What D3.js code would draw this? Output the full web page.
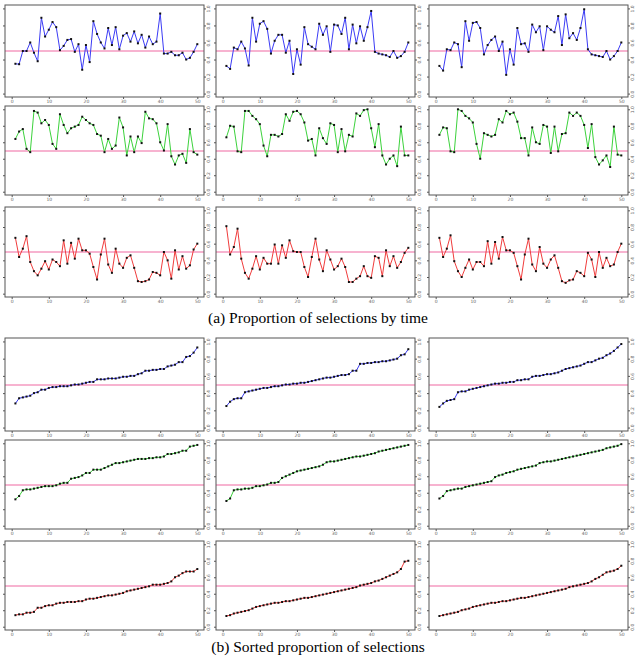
<!DOCTYPE html>
<html>
<head>
<meta charset="utf-8">
<script src="https://cdn.jsdelivr.net/npm/d3@7"></script>
<style>
  body { margin: 0; background: #fff; }
  svg { display: block; }
</style>
</head>
<body>
<script>
// proportions of selections by time (rows: blue, green, red; columns: 3 runs)
var timeBlue1 = [0.35,0.345,0.50,0.50,0.60,0.48,0.38,0.89,0.67,0.75,0.84,0.78,0.51,0.56,0.63,0.64,0.49,0.58,0.28,0.57,0.37,0.85,0.70,0.60,0.53,0.77,0.57,0.78,0.52,0.68,0.71,0.61,0.73,0.59,0.69,0.54,0.67,0.58,0.61,0.94,0.47,0.47,0.49,0.45,0.45,0.48,0.40,0.42,0.49,0.58];
var timeBlue2 = [0.325,0.29,0.54,0.52,0.61,0.53,0.33,0.89,0.61,0.82,0.85,0.76,0.47,0.62,0.69,0.69,0.48,0.62,0.23,0.52,0.34,0.78,0.58,0.55,0.52,0.82,0.69,0.79,0.49,0.81,0.80,0.70,0.89,0.52,0.81,0.59,0.79,0.62,0.78,0.97,0.49,0.47,0.46,0.45,0.43,0.50,0.42,0.44,0.49,0.60];
var timeBlue3 = [0.325,0.27,0.52,0.51,0.60,0.58,0.31,0.85,0.62,0.83,0.84,0.77,0.46,0.57,0.63,0.67,0.50,0.61,0.22,0.52,0.34,0.77,0.58,0.59,0.49,0.81,0.72,0.79,0.51,0.79,0.75,0.72,0.91,0.57,0.93,0.65,0.71,0.63,0.77,0.99,0.52,0.46,0.45,0.44,0.43,0.50,0.40,0.44,0.50,0.60];
var timeGreen1 = [0.64,0.73,0.76,0.52,0.48,0.98,0.96,0.83,0.87,0.81,0.58,0.52,0.94,0.81,0.71,0.77,0.79,0.81,0.91,0.87,0.83,0.81,0.70,0.68,0.48,0.64,0.52,0.56,0.90,0.78,0.44,0.67,0.48,0.67,0.59,0.97,0.89,0.88,0.83,0.60,0.50,0.82,0.43,0.33,0.44,0.46,0.35,0.76,0.48,0.45];
var timeGreen2 = [0.66,0.80,0.79,0.49,0.48,0.98,0.98,0.92,0.88,0.82,0.56,0.43,0.69,0.69,0.67,0.70,0.94,0.86,0.97,0.98,0.94,0.84,0.62,0.64,0.44,0.77,0.65,0.58,0.83,0.81,0.48,0.76,0.49,0.69,0.67,0.95,0.92,0.99,1.00,0.77,0.54,0.82,0.44,0.33,0.40,0.44,0.31,0.79,0.44,0.44];
var timeGreen3 = [0.69,0.78,0.77,0.49,0.48,1.00,0.98,0.92,0.89,0.84,0.58,0.40,0.71,0.69,0.67,0.69,0.88,0.84,0.98,0.94,0.96,0.85,0.65,0.65,0.44,0.78,0.60,0.58,0.81,0.79,0.47,0.79,0.49,0.70,0.71,0.96,0.92,0.96,0.92,0.81,0.53,0.82,0.42,0.33,0.38,0.44,0.30,0.79,0.45,0.44];
var timeRed1 = [0.67,0.44,0.54,0.69,0.38,0.27,0.22,0.30,0.39,0.29,0.41,0.38,0.33,0.64,0.36,0.61,0.42,0.66,0.52,0.52,0.48,0.32,0.17,0.47,0.66,0.35,0.25,0.54,0.36,0.31,0.43,0.46,0.31,0.15,0.14,0.15,0.17,0.26,0.25,0.22,0.50,0.40,0.18,0.52,0.29,0.45,0.30,0.34,0.53,0.60];
var timeRed2 = [0.81,0.47,0.56,0.78,0.42,0.25,0.18,0.30,0.45,0.29,0.43,0.36,0.36,0.59,0.36,0.58,0.43,0.64,0.51,0.50,0.50,0.32,0.20,0.44,0.66,0.41,0.27,0.52,0.41,0.29,0.33,0.42,0.32,0.14,0.14,0.18,0.21,0.33,0.21,0.19,0.45,0.43,0.21,0.52,0.33,0.45,0.31,0.38,0.49,0.55];
var timeRed3 = [0.67,0.44,0.54,0.70,0.39,0.27,0.20,0.31,0.41,0.29,0.38,0.38,0.33,0.63,0.36,0.62,0.42,0.68,0.52,0.52,0.49,0.33,0.17,0.47,0.66,0.35,0.27,0.56,0.36,0.31,0.41,0.46,0.31,0.15,0.13,0.16,0.17,0.27,0.25,0.21,0.49,0.41,0.20,0.50,0.31,0.43,0.33,0.35,0.50,0.60];

// sorted proportions of selections
var sortBlue1 = [0.28,0.34,0.35,0.36,0.37,0.40,0.41,0.44,0.44,0.46,0.47,0.47,0.48,0.48,0.48,0.49,0.50,0.50,0.51,0.52,0.53,0.53,0.56,0.56,0.56,0.57,0.57,0.57,0.58,0.59,0.59,0.60,0.60,0.62,0.63,0.66,0.66,0.67,0.67,0.68,0.68,0.71,0.72,0.73,0.76,0.76,0.82,0.83,0.87,0.93];
var sortBlue2 = [0.25,0.30,0.33,0.34,0.34,0.41,0.42,0.43,0.44,0.45,0.46,0.46,0.47,0.48,0.48,0.49,0.50,0.50,0.51,0.51,0.52,0.52,0.53,0.54,0.55,0.56,0.57,0.58,0.58,0.59,0.60,0.61,0.61,0.62,0.66,0.66,0.74,0.74,0.75,0.75,0.76,0.76,0.77,0.77,0.78,0.79,0.80,0.84,0.85,0.91];
var sortBlue3 = [0.24,0.28,0.31,0.32,0.33,0.41,0.42,0.42,0.44,0.45,0.46,0.47,0.48,0.49,0.50,0.51,0.51,0.52,0.52,0.53,0.53,0.55,0.55,0.56,0.56,0.59,0.60,0.60,0.61,0.62,0.62,0.63,0.64,0.66,0.68,0.69,0.70,0.71,0.72,0.74,0.76,0.76,0.78,0.80,0.81,0.84,0.86,0.89,0.93,0.97];
var sortGreen1 = [0.32,0.36,0.43,0.44,0.44,0.45,0.46,0.47,0.48,0.48,0.48,0.49,0.51,0.52,0.52,0.57,0.58,0.59,0.61,0.64,0.64,0.68,0.68,0.68,0.70,0.72,0.74,0.76,0.76,0.77,0.78,0.79,0.80,0.81,0.81,0.81,0.82,0.82,0.83,0.83,0.84,0.87,0.87,0.88,0.89,0.91,0.91,0.96,0.97,0.98];
var sortGreen2 = [0.30,0.33,0.43,0.44,0.44,0.45,0.45,0.46,0.48,0.48,0.49,0.50,0.52,0.52,0.53,0.58,0.60,0.62,0.64,0.66,0.67,0.68,0.69,0.70,0.71,0.72,0.74,0.77,0.78,0.78,0.79,0.80,0.81,0.82,0.83,0.84,0.84,0.85,0.86,0.87,0.88,0.90,0.91,0.92,0.93,0.94,0.95,0.96,0.97,0.98];
var sortGreen3 = [0.33,0.36,0.42,0.43,0.44,0.45,0.45,0.47,0.48,0.49,0.50,0.51,0.52,0.53,0.54,0.59,0.61,0.62,0.64,0.65,0.66,0.68,0.69,0.70,0.71,0.72,0.73,0.76,0.77,0.78,0.78,0.79,0.80,0.81,0.82,0.83,0.84,0.85,0.86,0.87,0.88,0.89,0.90,0.91,0.92,0.94,0.95,0.96,0.97,0.99];
var sortRed1 = [0.14,0.15,0.15,0.17,0.17,0.18,0.23,0.23,0.25,0.26,0.26,0.28,0.29,0.29,0.30,0.30,0.30,0.31,0.31,0.33,0.34,0.34,0.35,0.36,0.37,0.38,0.38,0.39,0.40,0.41,0.43,0.44,0.45,0.46,0.47,0.48,0.49,0.51,0.51,0.51,0.52,0.53,0.55,0.60,0.62,0.65,0.67,0.67,0.67,0.70];
var sortRed2 = [0.13,0.14,0.16,0.17,0.18,0.19,0.20,0.22,0.24,0.25,0.26,0.27,0.28,0.29,0.29,0.30,0.31,0.31,0.32,0.33,0.34,0.35,0.35,0.36,0.37,0.38,0.39,0.40,0.41,0.42,0.43,0.44,0.45,0.46,0.47,0.48,0.50,0.51,0.52,0.53,0.55,0.56,0.58,0.60,0.62,0.64,0.66,0.70,0.79,0.80];
var sortRed3 = [0.13,0.14,0.15,0.16,0.17,0.18,0.20,0.21,0.22,0.24,0.25,0.26,0.27,0.28,0.29,0.29,0.30,0.31,0.31,0.32,0.33,0.34,0.35,0.35,0.36,0.37,0.38,0.39,0.40,0.41,0.42,0.43,0.44,0.45,0.46,0.48,0.49,0.50,0.51,0.52,0.53,0.55,0.58,0.60,0.63,0.66,0.67,0.68,0.70,0.74];

var xTicks = [0, 10, 20, 30, 40, 50];
var yTicks = [0, 0.2, 0.4, 0.6, 0.8, 1.0];
var refLevel = 0.5;
var captionA = "(a) Proportion of selections by time";
var captionB = "(b) Sorted proportion of selections";

var lineColors = { blue: "#3b3bf5", green: "#3cd23c", red: "#f03c3c" };

var svg = d3.select("body").append("svg")
    .attr("width", 635)
    .attr("height", 656);

var colX = [5, 216, 429];
var colW = 199;

function drawPanel(left, top, height, values, color){
    var right = left + colW,
        bottom = top + height;
    var x = d3.scaleLinear().domain([-1.8, 51.8]).range([left, right]);
    var y = d3.scaleLinear().domain([-0.04, 1.04]).range([bottom, top]);
    var g = svg.append("g");

    // reference line (a bit wide so the pink survives antialiasing)
    g.append("line")
        .attr("x1", left).attr("x2", right)
        .attr("y1", Math.round(y(refLevel))).attr("y2", Math.round(y(refLevel)))
        .attr("stroke", "#f59ac0")
        .attr("stroke-width", 1.6);

    var line = d3.line()
        .x((d, i) => x(i + 1))
        .y(d => y(d));

    g.append("path")
        .datum(values)
        .attr("d", line)
        .attr("fill", "none")
        .attr("stroke", color)
        .attr("stroke-width", 1);

    g.selectAll("rect.pt")
        .data(values)
        .join("rect")
        .attr("class", "pt")
        .attr("x", (d, i) => x(i + 1) - 1)
        .attr("y", d => y(d) - 1)
        .attr("width", 2)
        .attr("height", 2)
        .attr("fill", "#111");

    // box
    g.append("rect")
        .attr("x", left).attr("y", top)
        .attr("width", colW).attr("height", height)
        .attr("fill", "none")
        .attr("stroke", "#555")
        .attr("stroke-width", 1);

    var bx = g.append("g")
        .attr("transform", "translate(0," + bottom + ")")
        .call(d3.axisBottom(x).tickValues(xTicks).tickSize(2).tickPadding(1));
    var ly = g.append("g")
        .attr("transform", "translate(" + left + ",0)")
        .call(d3.axisLeft(y).tickValues(yTicks).tickSize(2).tickFormat(""));
    var ry = g.append("g")
        .attr("transform", "translate(" + right + ",0)")
        .call(d3.axisRight(y).tickValues(yTicks).tickSize(2).tickFormat(d3.format(".1f")));

    [bx, ly, ry].forEach(function(a){
        a.select(".domain").remove();
        a.selectAll("line").attr("stroke", "#555");
        a.selectAll("text")
            .attr("fill", "#666")
            .style("font-family", "DejaVu Sans, sans-serif")
            .style("font-size", "4.5px");
    });
    ry.selectAll("text")
        .attr("x", null).attr("dy", null)
        .attr("text-anchor", "middle")
        .attr("transform", "translate(5.5,0) rotate(-90)");
}

var rowsA = [[5, 92], [106, 89], [207, 90]];
var rowsB = [[338, 93], [440, 89], [541, 89]];

var timeSets = [[timeBlue1, timeBlue2, timeBlue3], [timeGreen1, timeGreen2, timeGreen3], [timeRed1, timeRed2, timeRed3]];
var sortSets = [[sortBlue1, sortBlue2, sortBlue3], [sortGreen1, sortGreen2, sortGreen3], [sortRed1, sortRed2, sortRed3]];
var rowColors = [lineColors.blue, lineColors.green, lineColors.red];

rowsA.forEach(function(r, i){
    colX.forEach(function(cx, j){
        drawPanel(cx, r[0], r[1], timeSets[i][j], rowColors[i]);
    });
});
rowsB.forEach(function(r, i){
    colX.forEach(function(cx, j){
        drawPanel(cx, r[0], r[1], sortSets[i][j], rowColors[i]);
    });
});

svg.append("text")
    .attr("x", 318).attr("y", 323)
    .attr("text-anchor", "middle")
    .style("font-family", "Liberation Serif, serif")
    .style("font-size", "15.5px")
    .text(captionA);
svg.append("text")
    .attr("x", 318).attr("y", 652)
    .attr("text-anchor", "middle")
    .style("font-family", "Liberation Serif, serif")
    .style("font-size", "15.5px")
    .text(captionB);
</script>
</body>
</html>
